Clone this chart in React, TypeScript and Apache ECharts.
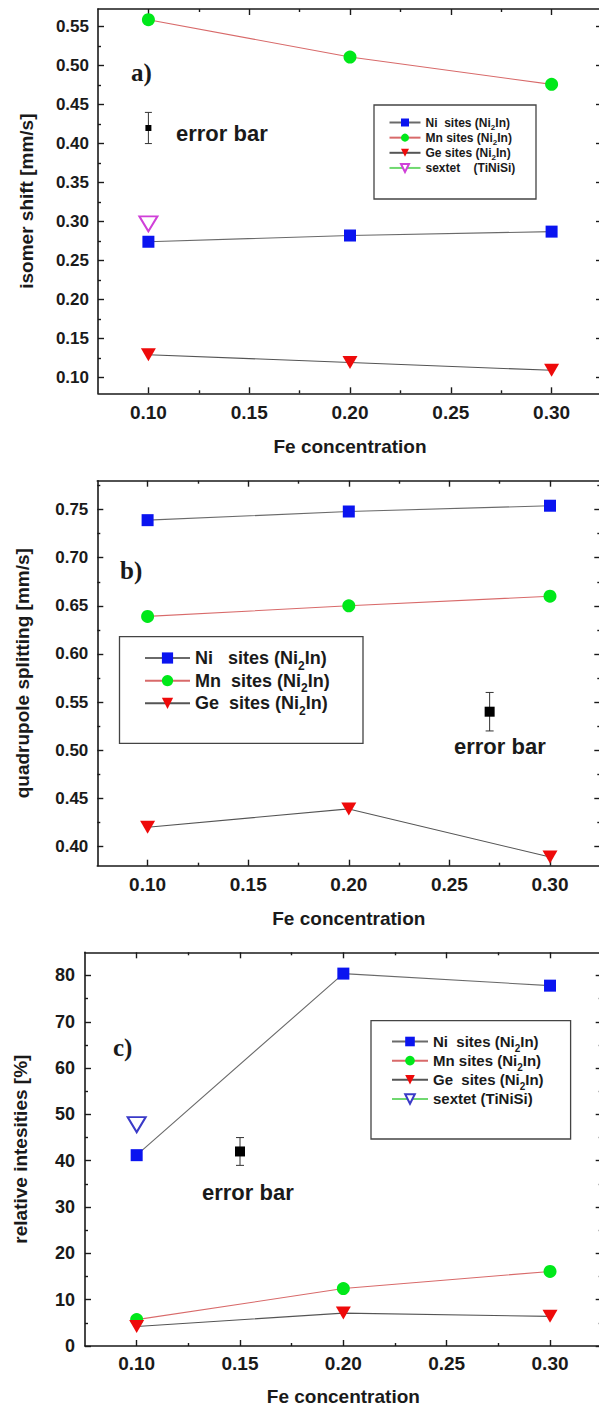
import React, { useEffect, useRef } from 'react';
import * as echarts from 'echarts';

// ---------- data ----------
const feConc = [0.1, 0.2, 0.3];

// panel a: isomer shift [mm/s]
const isoNi = [0.274, 0.282, 0.287];
const isoMn = [0.559, 0.511, 0.476];
const isoGe = [0.129, 0.119, 0.109];
const isoSextetX = [0.1];
const isoSextet = [0.297];
const isoErrX = [0.1];
const isoErrY = [0.42];
const isoErrLow = [0.4];
const isoErrHigh = [0.44];

// panel b: quadrupole splitting [mm/s]
const qsNi = [0.739, 0.748, 0.754];
const qsMn = [0.639, 0.65, 0.66];
const qsGe = [0.42, 0.439, 0.389];
const qsErrX = [0.27];
const qsErrY = [0.54];
const qsErrLow = [0.52];
const qsErrHigh = [0.56];

// panel c: relative intensities [%]
const riNi = [41.2, 80.4, 77.8];
const riMn = [5.7, 12.4, 16.1];
const riGe = [4.2, 7.1, 6.4];
const riSextetX = [0.1];
const riSextet = [47.8];
const riErrX = [0.15];
const riErrY = [42];
const riErrLow = [39];
const riErrHigh = [45];

// ticks
const xMajor = [0.1, 0.15, 0.2, 0.25, 0.3];
const xMinor = [0.125, 0.175, 0.225, 0.275];
const aMajor = [0.1, 0.15, 0.2, 0.25, 0.3, 0.35, 0.4, 0.45, 0.5, 0.55];
const aMinor = [0.125, 0.175, 0.225, 0.275, 0.325, 0.375, 0.425, 0.475, 0.525];
const bMajor = [0.4, 0.45, 0.5, 0.55, 0.6, 0.65, 0.7, 0.75];
const bMinor = [0.425, 0.475, 0.525, 0.575, 0.625, 0.675, 0.725, 0.775];
const cMajor = [0, 10, 20, 30, 40, 50, 60, 70, 80];
const cMinor = [5, 15, 25, 35, 45, 55, 65, 75];

const FONT = '"Liberation Sans", Arial, sans-serif';
const SERIF = '"Liberation Serif", "Times New Roman", serif';
const AX = '#1a1a1a';

const legendLabels: Record<string, string> = {
  aNi: '{t|Ni  sites (Ni}{s|2}{t|In)}',
  aMn: '{t|Mn sites (Ni}{s|2}{t|In)}',
  aGe: '{t|Ge sites (Ni}{s|2}{t|In)}',
  aSx: '{t|sextet    (TiNiSi)}',
  bNi: '{t|Ni   sites (Ni}{s|2}{t|In)}',
  bMn: '{t|Mn  sites (Ni}{s|2}{t|In)}',
  bGe: '{t|Ge  sites (Ni}{s|2}{t|In)}',
  cNi: '{t|Ni  sites (Ni}{s|2}{t|In)}',
  cMn: '{t|Mn sites (Ni}{s|2}{t|In)}',
  cGe: '{t|Ge  sites (Ni}{s|2}{t|In)}',
  cSx: '{t|sextet (TiNiSi)}',
};

type PanelCfg = {
  grid: number;
  xr: [number, number];
  yr: [number, number];
  yMaj: number[];
  yMin: number[];
  yDigits: number;
  yName: string;
  yNameGap: number;
  xNameGap: number;
  xLabelSize: number;
  yLabelSize: number;
  xMargin: number;
  yMargin: number;
};

function buildAxes(p: PanelCfg) {
  const lineOn = { show: true, onZero: false, lineStyle: { color: AX, width: 1.6 } };
  const lineOff = { show: false, onZero: false };
  const tick = (vals: number[], len: number) => ({
    show: true,
    inside: true,
    length: len,
    customValues: vals,
    lineStyle: { color: AX, width: 1.4 },
  });
  const base = (min: number, max: number, position: string) => ({
    type: 'value',
    gridIndex: p.grid,
    min,
    max,
    position,
    splitLine: { show: false },
    axisLabel: { show: false },
  });
  const xAxes: any[] = [
    {
      ...base(p.xr[0], p.xr[1], 'bottom'),
      axisLine: lineOn,
      axisTick: tick(xMajor, 6),
      axisLabel: {
        show: true,
        customValues: xMajor,
        formatter: (v: number) => v.toFixed(2),
        margin: p.xMargin,
        fontSize: p.xLabelSize,
        fontWeight: 'bold',
        fontFamily: FONT,
        color: AX,
      },
      name: 'Fe concentration',
      nameLocation: 'middle',
      nameGap: p.xNameGap,
      nameTextStyle: { fontSize: 19, fontWeight: 'bold', fontFamily: FONT, color: AX },
    },
    { ...base(p.xr[0], p.xr[1], 'bottom'), axisLine: lineOff, axisTick: tick(xMinor, 3) },
    { ...base(p.xr[0], p.xr[1], 'top'), axisLine: lineOn, axisTick: tick(xMajor, 6) },
    { ...base(p.xr[0], p.xr[1], 'top'), axisLine: lineOff, axisTick: tick(xMinor, 3) },
  ];
  const yAxes: any[] = [
    {
      ...base(p.yr[0], p.yr[1], 'left'),
      axisLine: lineOn,
      axisTick: tick(p.yMaj, 6),
      axisLabel: {
        show: true,
        customValues: p.yMaj,
        formatter: (v: number) => v.toFixed(p.yDigits),
        margin: p.yMargin,
        fontSize: p.yLabelSize,
        fontWeight: 'bold',
        fontFamily: FONT,
        color: AX,
      },
      name: p.yName,
      nameLocation: 'middle',
      nameGap: p.yNameGap,
      nameTextStyle: { fontSize: 19, fontWeight: 'bold', fontFamily: FONT, color: AX },
    },
    { ...base(p.yr[0], p.yr[1], 'left'), axisLine: lineOff, axisTick: tick(p.yMin, 3) },
    { ...base(p.yr[0], p.yr[1], 'right'), axisLine: lineOn, axisTick: tick(p.yMaj, 6) },
    { ...base(p.yr[0], p.yr[1], 'right'), axisLine: lineOff, axisTick: tick(p.yMin, 3) },
  ];
  return { xAxes, yAxes };
}

function lineSeries(
  name: string,
  g: number,
  xs: number[],
  ys: number[],
  symbol: string,
  size: number | number[],
  color: string,
  lineColor: string,
  rotate = 0,
  borderWidth = 0
) {
  return {
    type: 'line',
    name,
    xAxisIndex: g * 4,
    yAxisIndex: g * 4,
    data: xs.map((x, i) => [x, ys[i]]),
    symbol,
    symbolSize: size,
    symbolRotate: rotate,
    showSymbol: true,
    silent: true,
    itemStyle: { color, borderColor: color, borderWidth },
    lineStyle: { color: lineColor, width: 1.1 },
  };
}

function errSeries(
  g: number,
  xs: number[],
  ys: number[],
  lo: number[],
  hi: number[],
  sq: number,
  cap: number
) {
  return {
    type: 'custom',
    xAxisIndex: g * 4,
    yAxisIndex: g * 4,
    silent: true,
    data: xs.map((x, i) => [x, ys[i], lo[i], hi[i]]),
    encode: { x: 0, y: [1, 2, 3] },
    renderItem: (_params: any, api: any) => {
      const c = api.coord([api.value(0), api.value(1)]);
      const l = api.coord([api.value(0), api.value(2)]);
      const h = api.coord([api.value(0), api.value(3)]);
      const st = { stroke: '#333', lineWidth: 1 };
      return {
        type: 'group',
        children: [
          { type: 'line', shape: { x1: c[0], y1: l[1], x2: c[0], y2: h[1] }, style: st },
          { type: 'line', shape: { x1: c[0] - cap, y1: l[1], x2: c[0] + cap, y2: l[1] }, style: st },
          { type: 'line', shape: { x1: c[0] - cap, y1: h[1], x2: c[0] + cap, y2: h[1] }, style: st },
          {
            type: 'rect',
            shape: { x: c[0] - sq / 2, y: c[1] - sq / 2, width: sq, height: sq },
            style: { fill: '#000' },
          },
        ],
      };
    },
  };
}

function legend(
  names: string[],
  left: number,
  top: number,
  itemWidth: number,
  itemHeight: number,
  fontSize: number,
  lineHeight: number,
  subSize: number
) {
  return {
    show: true,
    orient: 'vertical',
    left,
    top,
    padding: 0,
    itemGap: 0,
    itemWidth,
    itemHeight,
    selectedMode: false,
    data: names,
    formatter: (n: string) => legendLabels[n],
    textStyle: {
      fontFamily: FONT,
      fontWeight: 'bold',
      fontSize,
      color: AX,
      rich: {
        t: { fontSize, fontWeight: 'bold', fontFamily: FONT, color: AX, lineHeight },
        s: {
          fontSize: subSize,
          fontWeight: 'bold',
          fontFamily: FONT,
          color: AX,
          lineHeight: subSize,
          verticalAlign: 'bottom',
        },
      },
    },
  };
}

function textEl(x: number, y: number, text: string, font: string, size: number) {
  return {
    type: 'text',
    x,
    y,
    silent: true,
    style: {
      text,
      fontFamily: font,
      fontSize: size,
      fontWeight: 'bold',
      fill: AX,
      verticalAlign: 'middle',
    },
  };
}

function boxEl(x: number, y: number, w: number, h: number) {
  return {
    type: 'rect',
    silent: true,
    shape: { x, y, width: w, height: h },
    style: { fill: 'none', stroke: '#444', lineWidth: 1.3 },
  };
}

export default function App() {
  const ref = useRef<HTMLDivElement>(null);
  useEffect(() => {
    if (!ref.current) return;
    const chart = echarts.init(ref.current, null, { renderer: 'svg' });

    const panels: PanelCfg[] = [
      {
        grid: 0, xr: [0.075, 0.325], yr: [0.0795, 0.5727], yMaj: aMajor, yMin: aMinor, yDigits: 2,
        yName: 'isomer shift [mm/s]', yNameGap: 62, xNameGap: 44, xLabelSize: 19, yLabelSize: 17,
        xMargin: 10, yMargin: 9,
      },
      {
        grid: 1, xr: [0.075, 0.325], yr: [0.38, 0.78], yMaj: bMajor, yMin: bMinor, yDigits: 2,
        yName: 'quadrupole splitting [mm/s]', yNameGap: 65, xNameGap: 43, xLabelSize: 19, yLabelSize: 17,
        xMargin: 9, yMargin: 9,
      },
      {
        grid: 2, xr: [0.075, 0.325], yr: [0, 85], yMaj: cMajor, yMin: cMinor, yDigits: 0,
        yName: 'relative intesities [%]', yNameGap: 55, xNameGap: 41, xLabelSize: 19, yLabelSize: 18,
        xMargin: 8, yMargin: 10,
      },
    ];
    const xAxis: any[] = [];
    const yAxis: any[] = [];
    panels.forEach((p) => {
      const { xAxes, yAxes } = buildAxes(p);
      xAxis.push(...xAxes);
      yAxis.push(...yAxes);
    });

    const option: any = {
      animation: false,
      backgroundColor: '#fff',
      grid: [
        { left: 98, top: 9, width: 504, height: 384.3 },
        { left: 97.3, top: 480.7, width: 503, height: 385 },
        { left: 85, top: 952.3, width: 516.7, height: 394 },
      ],
      xAxis,
      yAxis,
      legend: [
        legend(['aNi', 'aMn', 'aGe', 'aSx'], 388.5, 116.5, 31, 10, 12, 18.3, 8),
        legend(['bNi', 'bMn', 'bGe'], 144, 649, 45, 14, 18, 27.3, 12),
        legend(['cNi', 'cMn', 'cGe', 'cSx'], 391, 1034, 36, 12, 15, 23.3, 10),
      ],
      graphic: [
        boxEl(374, 105, 162, 94),
        boxEl(119.5, 636.7, 243.5, 106.6),
        boxEl(371, 1020.7, 199.6, 118.3),
        textEl(131, 72, 'a)', SERIF, 25),
        textEl(120, 570, 'b)', SERIF, 25),
        textEl(113, 1047, 'c)', SERIF, 25),
        textEl(176, 133, 'error bar', FONT, 22),
        textEl(454, 746, 'error bar', FONT, 22),
        textEl(202, 1192, 'error bar', FONT, 22),
      ],
      series: [
        // panel a
        lineSeries('aNi', 0, feConc, isoNi, 'rect', 12, '#0a14f0', '#6a6a6a'),
        lineSeries('aMn', 0, feConc, isoMn, 'circle', 13, '#00e81a', '#d86a6a'),
        lineSeries('aGe', 0, feConc, isoGe, 'triangle', [15, 13], '#ee0a0a', '#555555', 180),
        lineSeries('aSx', 0, isoSextetX, isoSextet, 'emptyTriangle', [18, 15], '#d040d8', '#70d870', 180, 1.3),
        errSeries(0, isoErrX, isoErrY, isoErrLow, isoErrHigh, 6, 3.5),
        // panel b
        lineSeries('bNi', 1, feConc, qsNi, 'rect', 12, '#0a14f0', '#6a6a6a'),
        lineSeries('bMn', 1, feConc, qsMn, 'circle', 13, '#00e81a', '#d86a6a'),
        lineSeries('bGe', 1, feConc, qsGe, 'triangle', [15, 13], '#ee0a0a', '#555555', 180),
        errSeries(1, qsErrX, qsErrY, qsErrLow, qsErrHigh, 10, 4),
        // panel c
        lineSeries('cNi', 2, feConc, riNi, 'rect', 12, '#0a14f0', '#6a6a6a'),
        lineSeries('cMn', 2, feConc, riMn, 'circle', 13, '#00e81a', '#d86a6a'),
        lineSeries('cGe', 2, feConc, riGe, 'triangle', [15, 13], '#ee0a0a', '#555555', 180),
        lineSeries('cSx', 2, riSextetX, riSextet, 'emptyTriangle', [18, 15], '#3a3ac8', '#70d870', 180, 1.3),
        errSeries(2, riErrX, riErrY, riErrLow, riErrHigh, 10, 4),
      ],
    };
    chart.setOption(option);
    return () => {
      chart.dispose();
    };
  }, []);
  return (
    <div
      ref={ref}
      style={{ position: 'fixed', left: 0, top: 0, width: 610, height: 1407, background: '#fff' }}
    />
  );
}
